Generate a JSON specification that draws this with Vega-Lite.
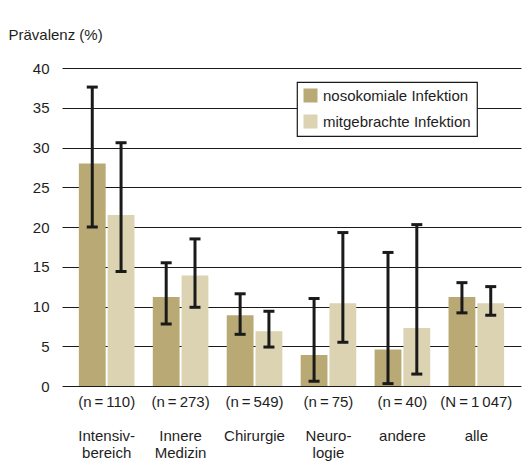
{
  "$schema": "https://vega.github.io/schema/vega-lite/v6.json",
  "width": 459,
  "height": 318,
  "autosize": {"type": "none"},
  "padding": {"left": 62, "top": 68, "right": 9, "bottom": 82},
  "background": "white",
  "config": {
    "view": {"stroke": null},
    "font": "Liberation Sans",
    "text": {"font": "Liberation Sans"},
    "axisY": {
      "grid": true,
      "gridColor": "#1a1a1a",
      "gridWidth": 1,
      "gridOpacity": 1,
      "domain": false,
      "ticks": false,
      "tickSize": 0,
      "labelPadding": 13,
      "labelFontSize": 15,
      "labelColor": "#1e1e1e",
      "labelOverlap": false,
      "titleAngle": 0,
      "titleAlign": "left",
      "titleBaseline": "alphabetic",
      "titleX": -54,
      "titleY": -29,
      "titleFontSize": 15,
      "titleFontWeight": "normal",
      "titleColor": "#1e1e1e"
    }
  },
  "data": {
    "values": [
      {"cat": "(n\u2009=\u2009110)|\u200b|Intensiv-|bereich", "serie": "nosokomiale Infektion", "wert": 28.0, "lo": 20.0, "hi": 37.6},
      {"cat": "(n\u2009=\u2009110)|\u200b|Intensiv-|bereich", "serie": "mitgebrachte Infektion", "wert": 21.5, "lo": 14.4, "hi": 30.6},
      {"cat": "(n\u2009=\u2009273)|\u200b|Innere|Medizin", "serie": "nosokomiale Infektion", "wert": 11.2, "lo": 7.8, "hi": 15.5},
      {"cat": "(n\u2009=\u2009273)|\u200b|Innere|Medizin", "serie": "mitgebrachte Infektion", "wert": 13.9, "lo": 9.9, "hi": 18.5},
      {"cat": "(n\u2009=\u2009549)|\u200b|Chirurgie", "serie": "nosokomiale Infektion", "wert": 8.9, "lo": 6.5, "hi": 11.6},
      {"cat": "(n\u2009=\u2009549)|\u200b|Chirurgie", "serie": "mitgebrachte Infektion", "wert": 6.9, "lo": 4.9, "hi": 9.4},
      {"cat": "(n\u2009=\u200975)|\u200b|Neuro-|logie", "serie": "nosokomiale Infektion", "wert": 3.9, "lo": 0.6, "hi": 11.0},
      {"cat": "(n\u2009=\u200975)|\u200b|Neuro-|logie", "serie": "mitgebrachte Infektion", "wert": 10.4, "lo": 5.5, "hi": 19.3},
      {"cat": "(n\u2009=\u200940)|\u200b|andere", "serie": "nosokomiale Infektion", "wert": 4.6, "lo": 0.3, "hi": 16.8},
      {"cat": "(n\u2009=\u200940)|\u200b|andere", "serie": "mitgebrachte Infektion", "wert": 7.3, "lo": 1.5, "hi": 20.3},
      {"cat": "(N\u2009=\u20091\u2009047)|\u200b|alle", "serie": "nosokomiale Infektion", "wert": 11.2, "lo": 9.2, "hi": 13.0},
      {"cat": "(N\u2009=\u20091\u2009047)|\u200b|alle", "serie": "mitgebrachte Infektion", "wert": 10.4, "lo": 8.9, "hi": 12.5}
    ]
  },
  "encoding": {
    "x": {
      "field": "cat",
      "type": "nominal",
      "sort": null,
      "scale": {"paddingInner": 0.248, "paddingOuter": 0.228},
      "axis": {
        "title": null,
        "labelAngle": 0,
        "domain": false,
        "ticks": false,
        "tickSize": 0,
        "labelPadding": 8,
        "labelBaseline": "top",
        "labelLineHeight": 17,
        "labelFontSize": 15,
        "labelColor": "#1e1e1e",
        "labelLimit": 0,
        "labelExpr": "split(datum.label, '|')"
      }
    },
    "xOffset": {
      "field": "serie",
      "type": "nominal",
      "sort": ["nosokomiale Infektion", "mitgebrachte Infektion"],
      "scale": {"paddingInner": 0.069, "paddingOuter": 0}
    }
  },
  "layer": [
    {
      "mark": {"type": "bar"},
      "encoding": {
        "y": {
          "field": "wert",
          "type": "quantitative",
          "title": "Prävalenz (%)",
          "scale": {"domain": [0, 40], "nice": false},
          "axis": {"values": [0, 5, 10, 15, 20, 25, 30, 35, 40], "title": "Prävalenz (%)"}
        },
        "color": {
          "field": "serie",
          "type": "nominal",
          "sort": ["nosokomiale Infektion", "mitgebrachte Infektion"],
          "scale": {"domain": ["nosokomiale Infektion", "mitgebrachte Infektion"], "range": ["#b9a974", "#dbd3b1"]},
          "legend": {
            "title": null,
            "orient": "none",
            "legendX": 235,
            "legendY": 14,
            "direction": "vertical",
            "fillColor": "white",
            "strokeColor": "#1a1a1a",
            "padding": 6,
            "symbolType": "square",
            "symbolSize": 196,
            "symbolStrokeWidth": 0,
            "symbolOpacity": 1,
            "labelFontSize": 15,
            "labelColor": "#1e1e1e",
            "labelOffset": 5,
            "rowPadding": 10,
            "labelLimit": 0,
            "encode": {"legend": {"update": {"strokeWidth": {"value": 1.2}}}}
          }
        }
      }
    },
    {
      "mark": {"type": "rule", "color": "#1a1a1a", "strokeWidth": 3},
      "encoding": {
        "y": {"field": "lo", "type": "quantitative", "title": "Prävalenz (%)", "axis": {"values": [0, 5, 10, 15, 20, 25, 30, 35, 40], "title": "Prävalenz (%)"}},
        "y2": {"field": "hi"}
      }
    },
    {
      "mark": {"type": "tick", "color": "#1a1a1a", "thickness": 3, "size": 11, "opacity": 1},
      "encoding": {
        "y": {"field": "lo", "type": "quantitative", "title": "Prävalenz (%)", "axis": {"values": [0, 5, 10, 15, 20, 25, 30, 35, 40], "title": "Prävalenz (%)"}}
      }
    },
    {
      "mark": {"type": "tick", "color": "#1a1a1a", "thickness": 3, "size": 11, "opacity": 1},
      "encoding": {
        "y": {"field": "hi", "type": "quantitative", "title": "Prävalenz (%)", "axis": {"values": [0, 5, 10, 15, 20, 25, 30, 35, 40], "title": "Prävalenz (%)"}}
      }
    }
  ]
}
